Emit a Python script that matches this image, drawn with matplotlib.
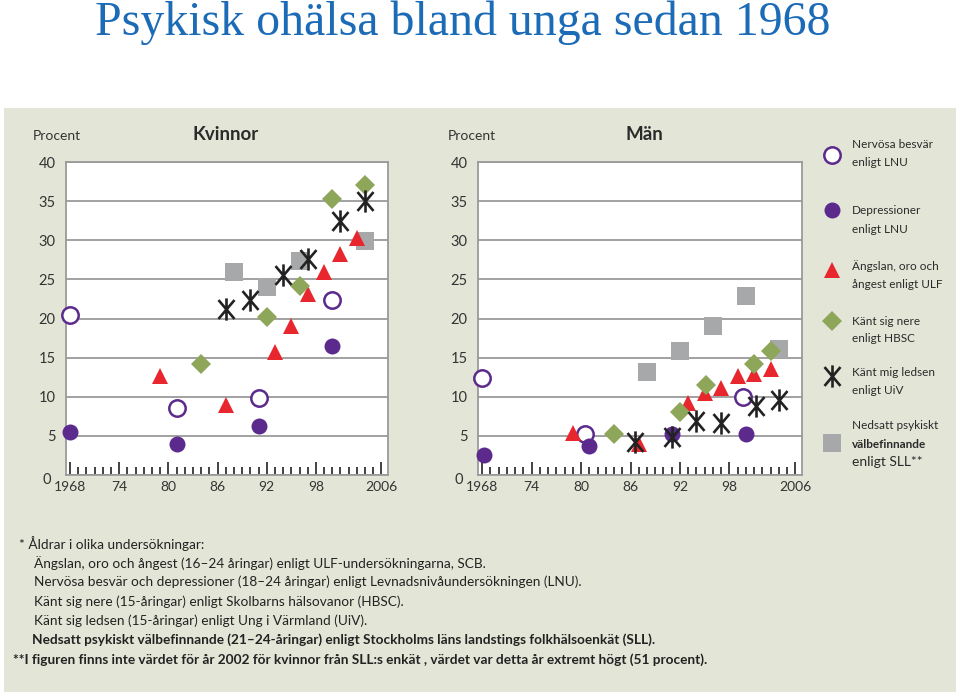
import matplotlib
matplotlib.use('Agg')
import matplotlib.pyplot as plt
import matplotlib.transforms as mtransforms
from matplotlib.path import Path
from matplotlib.patches import Rectangle

W, H = 960, 696
FONT = 'Lato'
plt.rcParams['font.family'] = [FONT, 'DejaVu Sans']

# ---------------- data ----------------
tick_years = [1968, 1974, 1980, 1986, 1992, 1998, 2006]
tick_labels = ['1968', '74', '80', '86', '92', '98', '2006']
y_ticks = [0, 5, 10, 15, 20, 25, 30, 35, 40]

series_names = ['Nervösa besvär\nenligt LNU',
                'Depressioner\nenligt LNU',
                'Ängslan, oro och\nångest enligt ULF',
                'Känt sig nere\nenligt HBSC',
                'Känt mig ledsen\nenligt UiV',
                'Nedsatt psykiskt\nvälbefinnande\nenligt SLL**']

# Kvinnor
k_nerv_x = [1968, 1981, 1991, 2000]
k_nerv_y = [20.5, 8.6, 9.9, 22.4]
k_depr_x = [1968, 1981, 1991, 2000]
k_depr_y = [5.5, 4.0, 6.3, 16.5]
k_angs_x = [1979, 1987, 1993, 1995, 1997, 1999, 2001, 2003]
k_angs_y = [12.7, 9.0, 15.7, 19.0, 23.1, 26.0, 28.3, 30.3]
k_hbsc_x = [1984, 1992, 1996, 2000, 2004]
k_hbsc_y = [14.2, 20.2, 24.2, 35.3, 37.1]
k_uiv_x = [1987, 1990, 1994, 1997, 2001, 2004]
k_uiv_y = [21.2, 22.4, 25.5, 27.6, 32.4, 35.0]
k_sll_x = [1988, 1992, 1996, 2004]
k_sll_y = [26.0, 24.0, 27.3, 29.9]

# Män
m_nerv_x = [1968, 1980.5, 1999.6]
m_nerv_y = [12.4, 5.3, 10.0]
m_depr_x = [1968.2, 1981, 1991, 2000]
m_depr_y = [2.6, 3.7, 5.3, 5.3]
m_angs_x = [1979, 1987, 1993, 1995, 1997, 1999, 2001, 2003]
m_angs_y = [5.4, 4.0, 9.2, 10.5, 11.1, 12.6, 12.9, 13.5]
m_hbsc_x = [1984, 1992, 1995.2, 2001, 2003.1]
m_hbsc_y = [5.25, 8.0, 11.5, 14.2, 15.8]
m_uiv_x = [1986.6, 1991, 1994, 1997, 2001.2, 2004]
m_uiv_y = [4.2, 4.9, 6.9, 6.6, 8.8, 9.6]
m_sll_x = [1988, 1992, 1996, 2000, 2004]
m_sll_y = [13.1, 15.9, 19.1, 22.9, 16.1]

footnotes = ['* Åldrar i olika undersökningar:',
             'Ängslan, oro och ångest (16–24 åringar) enligt ULF-undersökningarna, SCB.',
             'Nervösa besvär och depressioner (18–24 åringar) enligt Levnadsnivåundersökningen (LNU).',
             'Känt sig nere (15-åringar) enligt Skolbarns hälsovanor (HBSC).',
             'Känt sig ledsen (15-åringar) enligt Ung i Värmland (UiV).',
             'Nedsatt psykiskt välbefinnande (21–24-åringar) enligt Stockholms läns landstings folkhälsoenkät (SLL).',
             '**I figuren finns inte värdet för år 2002 för kvinnor från SLL:s enkät , värdet var detta år extremt högt (51 procent).']

# ---------------- styles ----------------
PURPLE = '#5b2a8c'
RED = '#e8262d'
GREEN = '#8da65a'
GRAY = '#a7a8aa'
INK = '#222222'
BG = '#e3e6d7'

ast_path = Path([(0, -1), (0, 1), (-0.72, -0.85), (0.72, 0.85), (-0.72, 0.85), (0.72, -0.85)],
                [Path.MOVETO, Path.LINETO, Path.MOVETO, Path.LINETO, Path.MOVETO, Path.LINETO])

styles = [
    dict(marker='o', ms=11.8, mfc='white', mec=PURPLE, mew=1.8, zorder=4),
    dict(marker='o', ms=11.5, mfc=PURPLE, mec=PURPLE, mew=0, zorder=5),
    dict(marker='^', ms=12.0, mfc=RED, mec=RED, mew=0, zorder=6),
    dict(marker='D', ms=10.0, mfc=GREEN, mec=GREEN, mew=0, zorder=7),
    dict(marker=ast_path, ms=16, mfc='none', mec=INK, mew=1.9, zorder=8),
    dict(marker='s', ms=12.3, mfc=GRAY, mec=GRAY, mew=0, zorder=3),
]

fig = plt.figure(figsize=(W / 100, H / 100), dpi=100)
fig.patch.set_facecolor('white')
fig.add_artist(Rectangle((4 / W, 1 - 692 / H), 952 / W, 584 / H,
                         transform=fig.transFigure, facecolor=BG, edgecolor='none', zorder=-5))

fig.text(95 / W, 1 - 35 / H, 'Psykisk ohälsa bland unga sedan 1968',
         family=['Liberation Serif'], fontsize=34.5, color='#1c6bb6', ha='left', va='baseline')


def setup(ax, title, title_x, procent_x):
    ax.set_xlim(1967.5, 2006.8)
    ax.set_ylim(0, 40)
    ax.set_facecolor('white')
    ax.set_yticks(y_ticks)
    ax.yaxis.grid(True, color='#9a9a9a', lw=1.3)
    ax.set_axisbelow(True)
    ax.tick_params(axis='y', length=0, pad=7.5, labelsize=10.5, labelcolor='#333333')
    ax.set_xticks(tick_years, tick_labels)
    ax.set_xticks(range(1968, 2007), minor=True)
    ax.tick_params(axis='x', which='major', direction='in', length=9.5, width=1.2,
                   color=INK, pad=4, labelsize=10, labelcolor='#333333')
    ax.tick_params(axis='x', which='minor', direction='in', length=5.5, width=1.2, color=INK)
    for s in ax.spines.values():
        s.set_color('#9a9a9a')
        s.set_linewidth(1.3)
    # the "0" label sits a little lower-left, as in the original
    fig.canvas.draw()
    lab0 = ax.get_yticklabels()[0]
    lab0.set_transform(lab0.get_transform() +
                       mtransforms.ScaledTranslation(-5 / 100, -3 / 100, fig.dpi_scale_trans))
    ax.text(procent_x, 1.083, 'Procent', transform=ax.transAxes, ha='left', va='center',
            fontsize=10, color='#333333')
    ax.text(title_x, 1.089, title, transform=ax.transAxes, ha='center', va='center',
            fontsize=13.5, fontweight='bold', color='#2a2a2a')


axK = fig.add_axes([66 / W, 1 - 475 / H, 322 / W, 313 / H])
axM = fig.add_axes([478 / W, 1 - 475 / H, 324 / W, 313 / H])
setup(axK, 'Kvinnor', 0.497, -0.102)
setup(axM, 'Män', 0.515, -0.093)

k_data = [(k_nerv_x, k_nerv_y), (k_depr_x, k_depr_y), (k_angs_x, k_angs_y),
          (k_hbsc_x, k_hbsc_y), (k_uiv_x, k_uiv_y), (k_sll_x, k_sll_y)]
m_data = [(m_nerv_x, m_nerv_y), (m_depr_x, m_depr_y), (m_angs_x, m_angs_y),
          (m_hbsc_x, m_hbsc_y), (m_uiv_x, m_uiv_y), (m_sll_x, m_sll_y)]

handles = []
for (xs, ys), st in zip(k_data, styles):
    h, = axK.plot(xs, ys, ls='none', clip_on=False, **st)
    handles.append(h)
for (xs, ys), st in zip(m_data, styles):
    axM.plot(xs, ys, ls='none', clip_on=False, **st)

# legend (keys via legend machinery, labels as text)
key_y = [155, 210, 270, 321, 376, 443]
text_y = [145, 211, 266, 321, 373, 426]
for h, ky, ty, name in zip(handles, key_y, text_y, series_names):
    leg = fig.legend(handles=[h], labels=[''], loc='center',
                     bbox_to_anchor=(831.7 / W, 1 - ky / H), frameon=False,
                     handlelength=1.2, handletextpad=0, borderpad=0, borderaxespad=0,
                     numpoints=1, fontsize=8)
    lines = name.split('\n')
    for i, ln in enumerate(lines):
        fw = 'bold' if ln == 'välbefinnande' else 'normal'
        fs = 10 if ln.startswith('enligt SLL') else 8.5
        fig.text(852 / W, 1 - (ty + i * 18) / H, ln, fontsize=fs, fontweight=fw,
                 color='#2a2a2a', ha='left', va='center')

# footnotes
foot_x = [19, 34, 34, 34, 34, 32, 13]
foot_y = [544, 563, 582, 602, 621, 640, 660]
for i, (fx, fy, t) in enumerate(zip(foot_x, foot_y, footnotes)):
    fw = 'bold' if i >= 5 else 'normal'
    fig.text(fx / W, 1 - fy / H, t, fontsize=9.8, fontweight=fw, color='#222222',
             ha='left', va='center')

fig.savefig('out.png', dpi=100, facecolor='white')
